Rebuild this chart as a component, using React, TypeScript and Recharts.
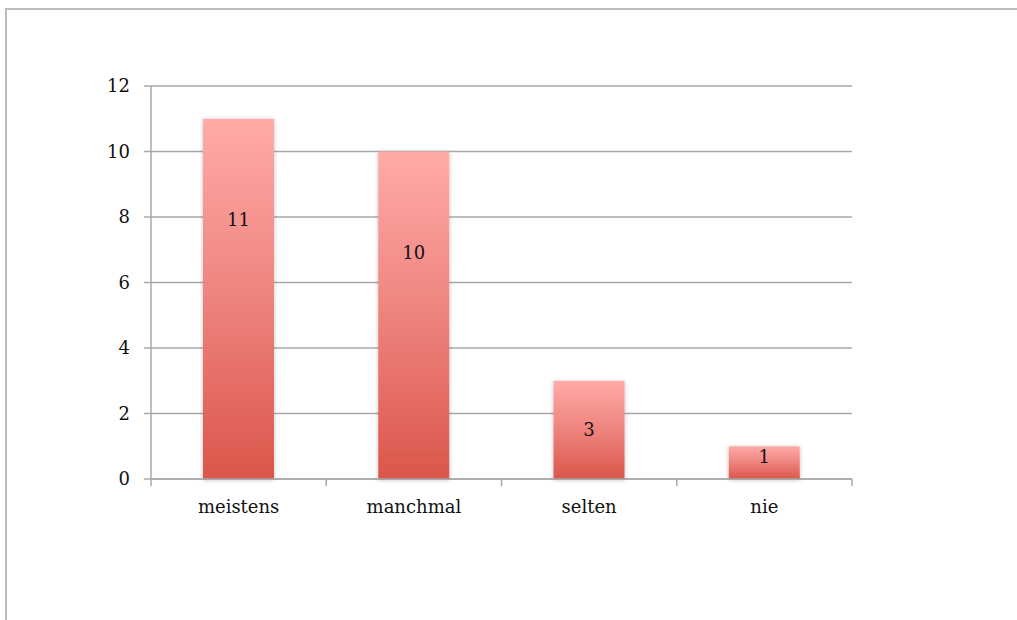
import React from 'react';
import { BarChart, Bar, XAxis, YAxis, CartesianGrid, LabelList } from 'recharts';

const categories = ['meistens', 'manchmal', 'selten', 'nie'];
const counts = [11, 10, 3, 1];
const yTicks = [0, 2, 4, 6, 8, 10, 12];

const data = categories.map((c, i) => ({ name: c, value: counts[i] }));

const W = 1017;
const H = 620;
const X_AXIS_H = 30;
const M = { top: 86, right: 165, bottom: 141 - X_AXIS_H, left: 0 };
const Y_AXIS_W = 151;
const PLOT_W = W - M.left - M.right - Y_AXIS_W;
const BAND = PLOT_W / categories.length;
const AXIS_Y = H - M.bottom - X_AXIS_H;
const FONT = '"DejaVu Serif", serif';
const GRID = '#A8A8A8';

const XTick = (props: any) => {
  const { x, index, payload } = props;
  const left = x - BAND / 2;
  const right = x + BAND / 2;
  return (
    <g>
      <line x1={left} x2={left} y1={AXIS_Y} y2={AXIS_Y + 7} stroke={GRID} strokeWidth={1.5} />
      {index === categories.length - 1 && (
        <line x1={right} x2={right} y1={AXIS_Y} y2={AXIS_Y + 7} stroke={GRID} strokeWidth={1.5} />
      )}
      <text x={x} y={AXIS_Y + 34} textAnchor="middle" fontFamily={FONT} fontSize={18} fill="#111">
        {payload.value}
      </text>
    </g>
  );
};

const BarLabel = (props: any) => {
  const { x, y, width, height, value } = props;
  const off = height < 50 ? 10 : Math.min(height / 2, 101);
  return (
    <text
      x={x + width / 2}
      y={y + off}
      textAnchor="middle"
      dominantBaseline="central"
      fontFamily={FONT}
      fontSize={18}
      fill="#111"
    >
      {value}
    </text>
  );
};

export default function App() {
  return (
    <div style={{ position: 'absolute', left: 0, top: 0, width: W, height: H, background: '#fff', overflow: 'hidden' }}>
      <div
        style={{
          position: 'absolute',
          left: 5,
          top: 8,
          width: W + 20,
          height: H + 20,
          border: '2px solid #BDBDBD',
          boxSizing: 'border-box',
        }}
      />
      <div style={{ position: 'absolute', left: 0, top: 0 }}>
        <BarChart width={W} height={H} data={data} margin={M} barSize={71}>
          <defs>
            <linearGradient id="barGrad" x1="0" y1="0" x2="0" y2="1">
              <stop offset="0%" stopColor="#FFABA8" />
              <stop offset="50%" stopColor="#EE837D" />
              <stop offset="100%" stopColor="#DB564B" />
            </linearGradient>
            <filter id="barShadow" x="-20%" y="-20%" width="140%" height="140%">
              <feDropShadow dx="0" dy="1" stdDeviation="2" floodColor="#000" floodOpacity="0.25" />
            </filter>
          </defs>
          <CartesianGrid vertical={false} stroke={GRID} strokeWidth={1.5} />
          <XAxis
            dataKey="name"
            height={X_AXIS_H}
            axisLine={{ stroke: GRID, strokeWidth: 1.5 }}
            tickLine={false}
            tick={<XTick />}
            interval={0}
          />
          <YAxis
            width={Y_AXIS_W}
            domain={[0, 12]}
            ticks={yTicks}
            interval={0}
            axisLine={{ stroke: GRID, strokeWidth: 1.5 }}
            tickLine={{ stroke: GRID, strokeWidth: 1.5 }}
            tickSize={7}
            tickMargin={14}
            tick={{ fontFamily: FONT, fontSize: 18, fill: '#111' }}
          />
          <Bar dataKey="value" fill="url(#barGrad)" filter="url(#barShadow)" isAnimationActive={false}>
            <LabelList dataKey="value" content={<BarLabel />} />
          </Bar>
        </BarChart>
      </div>
    </div>
  );
}
